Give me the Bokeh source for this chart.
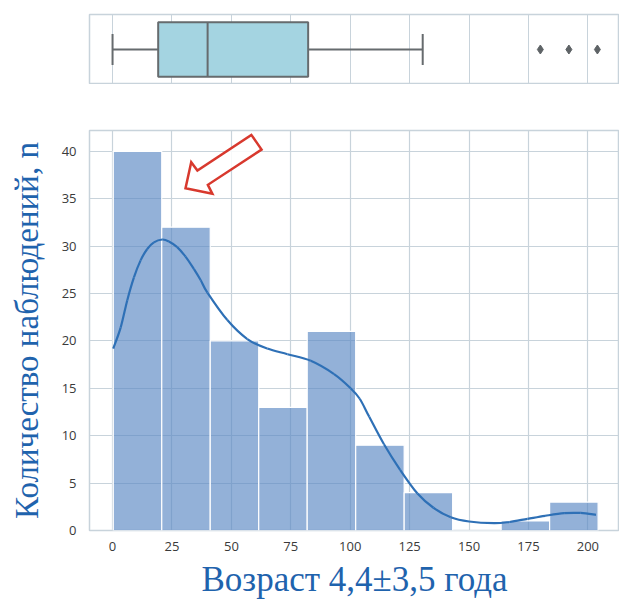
from bokeh.plotting import figure
from bokeh.layouts import column
from bokeh.models import Range1d, FixedTicker, ColumnDataSource
from bokeh.embed import file_html
from bokeh.resources import INLINE

# ---------------- data ----------------
bin_edges = [0.3, 20.7, 41.1, 61.5, 81.9, 102.3, 122.7, 143.1, 163.5, 183.9, 204.3]
counts = [40, 32, 20, 13, 21, 9, 4, 0, 1, 3]

kde_x = [0.3, 3.4, 6.2, 9.0, 11.8, 14.6, 17.4, 20.9, 23.7, 27.2, 30.7, 34.2, 37.1, 39.9,
         48.3, 56.7, 65.1, 73.6, 83.4, 93.2, 100.2, 104.0, 108.0, 114.2, 121.0, 128.3, 135.0,
         142.3, 150.0, 160.5, 167.0, 174.6, 182.0, 190.0, 197.0, 203.4]
kde_y = [19.2, 21.4, 24.3, 26.7, 28.5, 29.7, 30.4, 30.7, 30.5, 29.9, 28.9, 27.6, 26.4, 25.1,
         22.2, 20.2, 19.2, 18.6, 17.9, 16.5, 15.0, 13.9, 12.0, 9.1, 6.4, 3.9, 2.4,
         1.4, 0.95, 0.77, 0.9, 1.23, 1.55, 1.83, 1.85, 1.65]

box_whisker_low = 0.0
box_q1 = 19.2
box_median = 40.0
box_q3 = 82.3
box_whisker_high = 130.5
box_outliers = [180.0, 192.0, 204.0]

x_ticks = [0, 25, 50, 75, 100, 125, 150, 175, 200]
y_ticks = [0, 5, 10, 15, 20, 25, 30, 35, 40]

x_label = "Возраст 4,4±3,5 года"
y_label = "Количество наблюдений, n"

# annotation arrow (data coords)
arrow_x = [58.4, 62.7, 40.1, 42.0, 30.7, 33.1, 35.7]
arrow_y = [41.74, 40.19, 36.47, 35.52, 36.11, 38.85, 37.97]

# ---------------- styles ----------------
GRID = "#c8d3db"
BAR = "#5b88c4"
LINE = "#2e70b6"
TXT = "#1f63ad"

xr = Range1d(-9.7, 213.3)

# ---------------- box plot ----------------
box = figure(width=619, height=84, x_range=xr, y_range=Range1d(-0.5, 0.5),
             output_backend="svg", toolbar_location=None,
             min_border_left=89, min_border_right=0, min_border_top=14, min_border_bottom=0)
box.xaxis.ticker = FixedTicker(ticks=x_ticks)
box.xaxis.visible = False
box.yaxis.visible = False
box.ygrid.grid_line_color = None
box.xgrid.grid_line_color = GRID
box.xgrid.grid_line_width = 1
box.outline_line_color = GRID
box.outline_line_width = 1.5
box.background_fill_color = "white"
box.border_fill_color = "white"

EDGE = "#666b6e"
box.segment(x0=[box_whisker_low, box_q3], y0=[0, 0], x1=[box_q1, box_whisker_high], y1=[0, 0],
            line_color=EDGE, line_width=2)
box.segment(x0=[box_whisker_low, box_whisker_high], y0=[-0.22, -0.22],
            x1=[box_whisker_low, box_whisker_high], y1=[0.22, 0.22],
            line_color=EDGE, line_width=2)
box.quad(left=[box_q1], right=[box_q3], bottom=[-0.39], top=[0.39],
         fill_color="#a4d4e1", line_color=EDGE, line_width=2)
box.segment(x0=[box_median], y0=[-0.39], x1=[box_median], y1=[0.39], line_color=EDGE, line_width=2)
box.scatter(x=box_outliers, y=[0] * len(box_outliers), marker="diamond", size=9,
            fill_color="#5e6366", line_color="#5e6366")

# ---------------- histogram ----------------
p = figure(width=619, height=521, x_range=xr, y_range=Range1d(0, 42.2),
           output_backend="svg", toolbar_location=None,
           min_border_left=89, min_border_right=0, min_border_top=46, min_border_bottom=75)
p.background_fill_color = "white"
p.border_fill_color = "white"
p.outline_line_color = GRID
p.outline_line_width = 1.5
p.xgrid.grid_line_color = GRID
p.ygrid.grid_line_color = GRID
p.xgrid.grid_line_width = 1.2
p.ygrid.grid_line_width = 1.2

src = ColumnDataSource(dict(left=bin_edges[:-1], right=bin_edges[1:], top=counts,
                            bottom=[0] * len(counts)))
p.quad(left="left", right="right", top="top", bottom="bottom", source=src,
       fill_color=BAR, fill_alpha=0.66, line_color="white", line_width=1.2)

# smooth drawing of the read KDE points (Catmull-Rom -> cubic Bezier segments)
n = len(kde_x)
bx0, by0, bx1, by1, cx0, cy0, cx1, cy1 = [], [], [], [], [], [], [], []
for i in range(n - 1):
    xm, ym = (kde_x[i - 1], kde_y[i - 1]) if i > 0 else (kde_x[i], kde_y[i])
    xa, ya = kde_x[i], kde_y[i]
    xb, yb = kde_x[i + 1], kde_y[i + 1]
    xp, yp = (kde_x[i + 2], kde_y[i + 2]) if i + 2 < n else (xb, yb)
    bx0.append(xa); by0.append(ya); bx1.append(xb); by1.append(yb)
    cx0.append(xa + (xb - xm) / 6.0); cy0.append(ya + (yb - ym) / 6.0)
    cx1.append(xb - (xp - xa) / 6.0); cy1.append(yb - (yp - ya) / 6.0)
p.bezier(x0=bx0, y0=by0, x1=bx1, y1=by1, cx0=cx0, cy0=cy0, cx1=cx1, cy1=cy1,
         line_color=LINE, line_width=2.2)

p.patch(arrow_x, arrow_y, fill_color="white", fill_alpha=0.85, line_color="#d8392e",
        line_width=2.5, line_join="miter")

for ax in (p.xaxis, p.yaxis):
    ax.axis_line_color = None
    ax.major_tick_line_color = None
    ax.minor_tick_line_color = None
    ax.major_tick_out = 0
    ax.major_tick_in = 0
    ax.major_label_text_font = "Open Sans"
    ax.major_label_text_font_size = "13px"
    ax.major_label_text_color = "#3a3a3a"
    ax.axis_label_text_font = "Liberation Serif"
    ax.axis_label_text_font_style = "normal"
    ax.axis_label_text_color = TXT

p.xaxis.ticker = FixedTicker(ticks=x_ticks)
p.yaxis.ticker = FixedTicker(ticks=y_ticks)
p.xaxis.major_label_standoff = 11
p.yaxis.major_label_standoff = 13
p.xaxis.axis_label = x_label
p.yaxis.axis_label = y_label
p.xaxis.axis_label_text_font_size = "35px"
p.yaxis.axis_label_text_font_size = "33px"
p.xaxis.axis_label_standoff = 6
p.yaxis.axis_label_standoff = 14

layout = column(box, p, spacing=0)
open("out.html", "w").write(file_html(layout, INLINE))
